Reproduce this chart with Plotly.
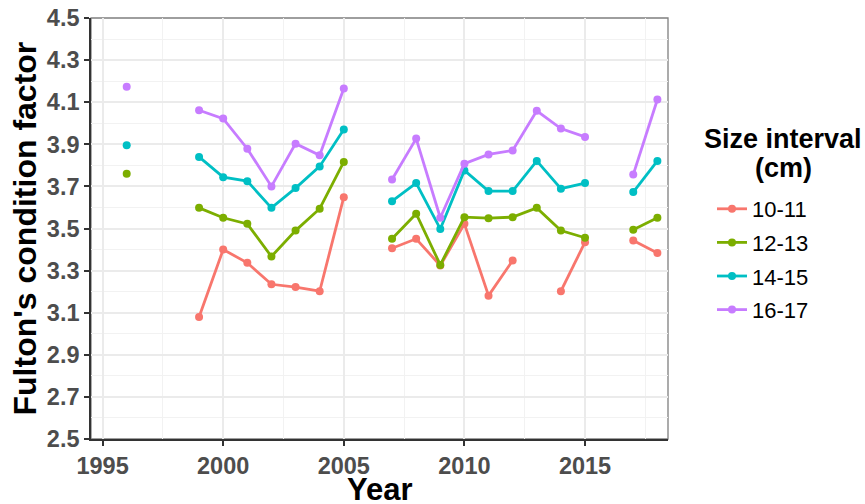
import plotly.graph_objects as go

years = list(range(1996, 2019))

# values by year (None = no data)
s10_11 = [None, None, None, 3.080, 3.400, 3.337, 3.235, 3.222, 3.202, 3.649, None,
          3.406, 3.451, 3.324, 3.522, 3.181, 3.348, None, 3.202, 3.435, None, 3.443, 3.384]
s12_13 = [3.760, None, None, 3.598, 3.551, 3.522, 3.367, 3.490, 3.594, 3.816, None,
          3.451, 3.570, 3.327, 3.554, 3.549, 3.554, 3.598, 3.490, 3.456, None, 3.494, 3.551]
s14_15 = [3.895, None, None, 3.840, 3.744, 3.725, 3.598, 3.692, 3.795, 3.970, None,
          3.630, 3.716, 3.498, 3.776, 3.678, 3.678, 3.821, 3.689, 3.716, None, 3.673, 3.821]
s16_17 = [4.173, None, None, 4.062, 4.022, 3.879, 3.700, 3.903, 3.848, 4.165, None,
          3.733, 3.927, 3.551, 3.808, 3.852, 3.871, 4.059, 3.975, 3.935, None, 3.756, 4.113]

series_names = ["10-11", "12-13", "14-15", "16-17"]
series_values = [s10_11, s12_13, s14_15, s16_17]
colors = ["#F8766D", "#7CAE00", "#00BFC4", "#C77CFF"]

y_ticks = [2.5, 2.7, 2.9, 3.1, 3.3, 3.5, 3.7, 3.9, 4.1, 4.3, 4.5]
x_ticks = [1995, 2000, 2005, 2010, 2015]

FONT = "Liberation Sans, Arial, sans-serif"

fig = go.Figure()
for name, vals, col in zip(series_names, series_values, colors):
    fig.add_trace(go.Scatter(
        x=years, y=vals, name=name, mode="lines+markers",
        connectgaps=False, legendgroup=name,
        line=dict(color=col, width=2.8),
        marker=dict(color=col, size=8),
    ))

L, R, T, B = 91, 197, 18, 65
W, H = 865, 504
pw = W - L - R
ph = H - T - B

def px_x(px):
    return (px - L) / pw

def px_y(py):
    return (H - B - py) / ph

fig.update_layout(
    width=W, height=H,
    margin=dict(l=L, r=R, t=T, b=B, pad=0, autoexpand=False),
    paper_bgcolor="white", plot_bgcolor="white",
    font=dict(family=FONT, color="black"),
    showlegend=True,
    legend=dict(
        x=px_x(712), y=px_y(188), xanchor="left", yanchor="top",
        font=dict(family=FONT, size=22, color="black"),
        tracegroupgap=2, itemwidth=30, bgcolor="rgba(0,0,0,0)",
    ),
    xaxis=dict(
        range=[1994.52, 2018.44], tickvals=x_ticks, automargin=False,
        tickfont=dict(family=FONT, size=23.5, color="#4D4D4D", weight="bold"),
        ticks="outside", ticklen=5, tickwidth=1.6, tickcolor="#333333",
        showgrid=True, gridcolor="#EBEBEB", gridwidth=1.6,
        minor=dict(tick0=1995, dtick=2.5, showgrid=True, gridcolor="#F2F2F2", gridwidth=1.2),
        showline=True, linecolor="#333333", linewidth=1.6, zeroline=False,
    ),
    yaxis=dict(
        range=[2.5, 4.5], tickvals=y_ticks, ticktext=[f"{v:.1f}" for v in y_ticks],
        automargin=False,
        tickfont=dict(family=FONT, size=23.5, color="#4D4D4D", weight="bold"),
        ticks="outside", ticklen=5, tickwidth=1.6, tickcolor="#333333",
        showgrid=True, gridcolor="#EBEBEB", gridwidth=1.6,
        minor=dict(tick0=2.5, dtick=0.1, showgrid=True, gridcolor="#F2F2F2", gridwidth=1.2),
        showline=True, linecolor="#333333", linewidth=1.6, zeroline=False,
    ),
    shapes=[dict(type="rect", xref="paper", yref="paper", x0=0, x1=1, y0=0, y1=1,
                 line=dict(color="#7F7F7F", width=1.3), layer="below")],
    annotations=[
        dict(text="<b>Fulton's condition factor</b>", textangle=-90,
             xref="paper", yref="paper", x=px_x(24), y=0.5,
             xanchor="center", yanchor="middle", showarrow=False,
             font=dict(family=FONT, size=32, color="black")),
        dict(text="<b>Year</b>", xref="paper", yref="paper", x=0.5, y=px_y(489),
             xanchor="center", yanchor="middle", showarrow=False,
             font=dict(family=FONT, size=31, color="black")),
        dict(text="<b>Size interval</b>", xref="paper", yref="paper", x=px_x(783), y=px_y(139),
             xanchor="center", yanchor="middle", showarrow=False,
             font=dict(family=FONT, size=27, color="black")),
        dict(text="<b>(cm)</b>", xref="paper", yref="paper", x=px_x(783), y=px_y(168),
             xanchor="center", yanchor="middle", showarrow=False,
             font=dict(family=FONT, size=27, color="black")),
    ],
)

fig.write_html("out.html", config={"displayModeBar": False},
               post_script="document.body.style.margin='0';")
